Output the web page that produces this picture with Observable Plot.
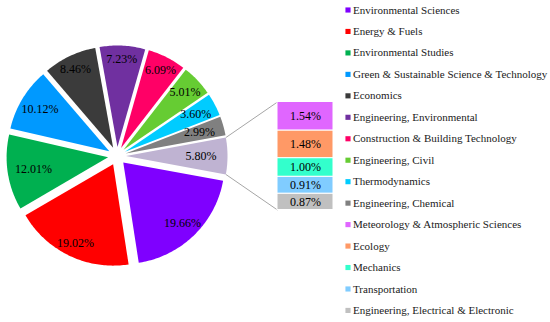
<!DOCTYPE html>
<html>
<head>
<meta charset="utf-8">
<script src="https://cdn.jsdelivr.net/npm/d3@7"></script>
<script src="https://cdn.jsdelivr.net/npm/@observablehq/plot@0.6"></script>
<style>
  html, body { margin: 0; padding: 0; background: #ffffff; }
  #chart { width: 550px; height: 322px; }
</style>
</head>
<body>
<div id="chart"></div>
<script>
// ---- data ----
const categories = [
  "Environmental Sciences",
  "Energy & Fuels",
  "Environmental Studies",
  "Green & Sustainable Science & Technology",
  "Economics",
  "Engineering, Environmental",
  "Construction & Building Technology",
  "Engineering, Civil",
  "Thermodynamics",
  "Engineering, Chemical",
  "Meteorology & Atmospheric Sciences",
  "Ecology",
  "Mechanics",
  "Transportation",
  "Engineering, Electrical & Electronic"
];
const shares = [19.66, 19.02, 12.01, 10.12, 8.46, 7.23, 6.09, 5.01, 3.60, 2.99, 1.54, 1.48, 1.00, 0.91, 0.87];
const shareLabels = ["19.66%", "19.02%", "12.01%", "10.12%", "8.46%", "7.23%", "6.09%", "5.01%", "3.60%", "2.99%", "1.54%", "1.48%", "1.00%", "0.91%", "0.87%"];
const otherLabel = "5.80%";
const colors = ["#7f00ff", "#ff0000", "#00b050", "#0099ff", "#3b3b3b", "#7030a0", "#ff0066", "#66cc33", "#00ccff", "#808080", "#e066ff", "#ff9966", "#33ffcc", "#80ccff", "#c0c0c0"];
const otherColor = "#bfb3d2";
const nMain = 10;

// ---- layout ----
const W = 550, H = 322;
const cx = 116.5, cy = 155.5, R = 101.5, explode = 9;
const barX1 = 277, barX2 = 333, barH = 108;
const serif = "'Liberation Serif', 'Times New Roman', serif";

const otherSum = d3.sum(shares.slice(nMain));
const total = d3.sum(shares.slice(0, nMain)) + otherSum;
const otherAngle = otherSum / total * 2 * Math.PI;

// slices: "Other" centred at 3 o'clock, the rest clockwise after it
const slices = [];
slices.push({key: "Other", a0: Math.PI / 2 - otherAngle / 2, a1: Math.PI / 2 + otherAngle / 2, label: otherLabel});
let a = Math.PI / 2 + otherAngle / 2;
for (let i = 0; i < nMain; i++) {
  const da = shares[i] / total * 2 * Math.PI;
  slices.push({key: categories[i], a0: a, a1: a + da, label: shareLabels[i]});
  a += da;
}
const pt = (ang, r, ox, oy) => ({x: ox + r * Math.sin(ang), y: oy - r * Math.cos(ang)});

const polys = [];
const labels = [];
for (const s of slices) {
  const m = (s.a0 + s.a1) / 2;
  const o = pt(m, explode, cx, cy);
  s.ox = o.x; s.oy = o.y;
  polys.push({key: s.key, x: o.x, y: o.y});
  const steps = Math.max(4, Math.ceil((s.a1 - s.a0) / (Math.PI / 180)));
  for (let k = 0; k <= steps; k++) {
    const p = pt(s.a0 + (s.a1 - s.a0) * k / steps, R, o.x, o.y);
    polys.push({key: s.key, x: p.x, y: p.y});
  }
  // labels sit inside the outer edge; wide text pulls in more at the sides
  const frac = 0.867 - 0.128 * Math.pow(Math.sin(m), 4);
  const lp = pt(m, R * frac, o.x, o.y);
  labels.push({x: lp.x, y: lp.y, text: s.label});
}

// bar of "Other"
const otherSlice = slices[0];
const barTop = cy - barH / 2;
const perUnit = barH / otherSum;
const barSegs = [];
let cum = 0;
for (let i = nMain; i < shares.length; i++) {
  barSegs.push({key: categories[i], x1: barX1, x2: barX2, y1: barTop + cum * perUnit, y2: barTop + (cum + shares[i]) * perUnit, text: shareLabels[i]});
  cum += shares[i];
}
const cTop = pt(otherSlice.a0, R, otherSlice.ox, otherSlice.oy);
const cBot = pt(otherSlice.a1, R, otherSlice.ox, otherSlice.oy);
const connectors = [
  {x1: cTop.x, y1: cTop.y, x2: barX1, y2: barTop},
  {x1: cBot.x, y1: cBot.y, x2: barX1, y2: barTop + barH}
];

// legend
const legendX = 347.5, legendY0 = 9.5, legendStep = 21.46;
const legend = categories.map((c, i) => ({key: c, x: legendX, tx: legendX + 5, y: legendY0 + i * legendStep}));

const chart = Plot.plot({
  width: W, height: H,
  marginTop: 0, marginRight: 0, marginBottom: 0, marginLeft: 0,
  x: {domain: [0, W], range: [0, W], axis: null},
  y: {domain: [0, H], range: [0, H], axis: null},
  color: {domain: [...categories, "Other"], range: [...colors, otherColor]},
  style: "font-family: 'Liberation Serif', 'Times New Roman', serif; background: #ffffff;",
  marks: [
    Plot.link(connectors, {x1: "x1", y1: "y1", x2: "x2", y2: "y2", stroke: "#a6a6a6", strokeWidth: 1}),
    Plot.line(polys, {x: "x", y: "y", z: "key", fill: "key", stroke: "none", curve: "linear"}),
    Plot.text(labels, {x: "x", y: "y", text: "text", fontSize: 12, fontFamily: serif, fill: "#000000"}),
    Plot.rect(barSegs, {x1: "x1", x2: "x2", y1: "y1", y2: "y2", fill: "key", stroke: "#ffffff", strokeWidth: 1}),
    Plot.text(barSegs, {x: d => (d.x1 + d.x2) / 2, y: d => (d.y1 + d.y2) / 2, text: "text", fontSize: 12, fontFamily: serif, fill: "#000000"}),
    Plot.dot(legend, {x: "x", y: "y", symbol: "square", r: 2.9, fill: "key", stroke: "none"}),
    Plot.text(legend, {x: "tx", y: "y", text: "key", textAnchor: "start", fontSize: 11, fontFamily: serif, fill: "#1a1a1a"})
  ]
});
document.getElementById("chart").appendChild(chart);
</script>
</body>
</html>
